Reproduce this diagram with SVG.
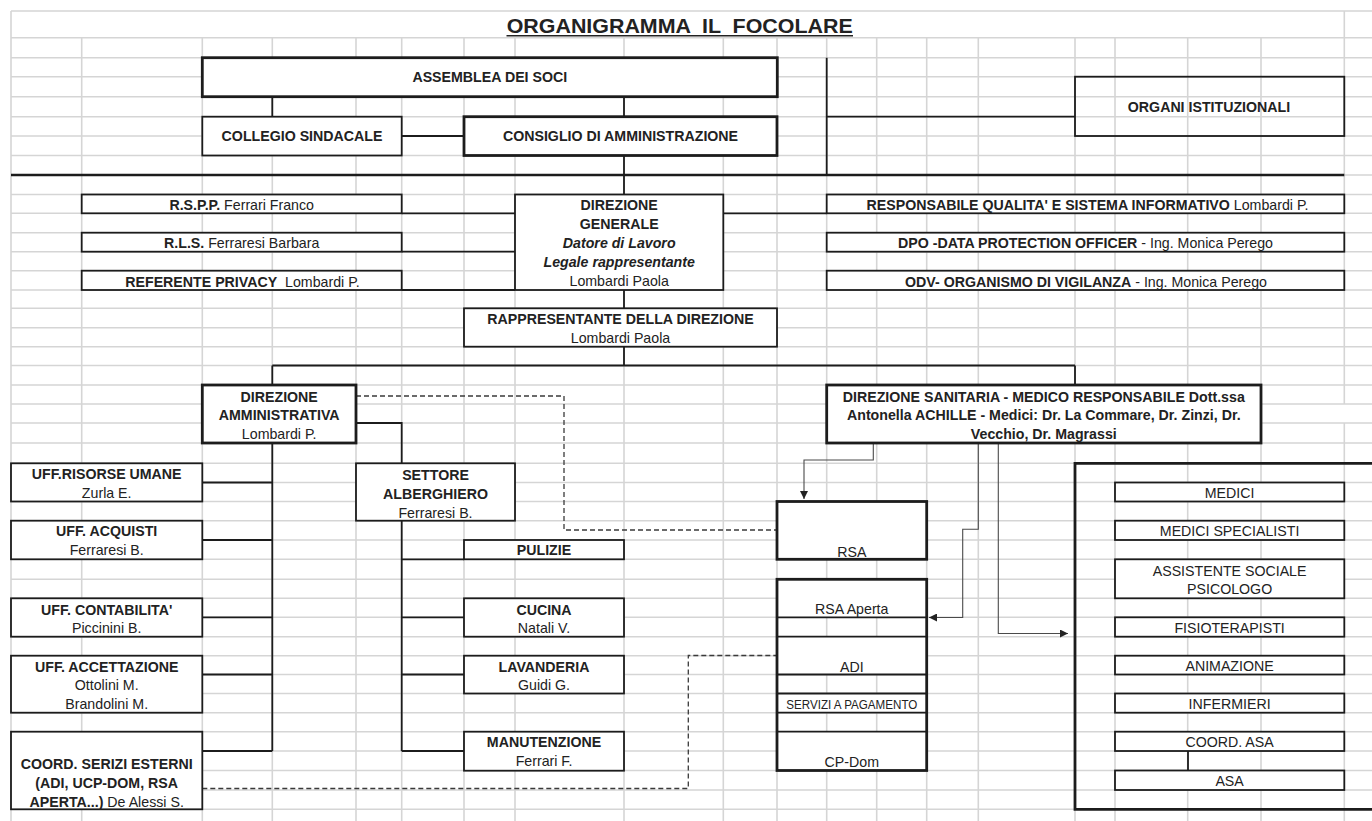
<svg xmlns="http://www.w3.org/2000/svg" width="1372" height="821" viewBox="0 0 1372 821">
<defs>
<style>
.grid{stroke:#d5d5d5;stroke-width:1.6;fill:none}
.bx{fill:#fff;stroke:#1c1c1c;stroke-width:1.8}
.bt{fill:#fff;stroke:#1c1c1c;stroke-width:2.8}
.open{fill:none;stroke:#1c1c1c;stroke-width:1.8}
.openT{fill:none;stroke:#1c1c1c;stroke-width:2.8}
.wh{fill:#fff;stroke:none}
.ln{fill:none;stroke:#1c1c1c;stroke-width:1.8}
.lnT{fill:none;stroke:#1c1c1c;stroke-width:2.6}
.thin{fill:none;stroke:#4a4a4a;stroke-width:1.1}
.dash{fill:none;stroke:#3a3a3a;stroke-width:1.3;stroke-dasharray:5 3}
text{font-family:"Liberation Sans",Arial,Helvetica,sans-serif;font-size:14.2px;fill:#222;text-anchor:middle}
.b{font-weight:bold}
.bi{font-weight:bold;font-style:italic}
.sm{font-size:12.5px}
</style>
<marker id="ah" viewBox="0 0 10 10" refX="10" refY="5" markerWidth="8" markerHeight="8" markerUnits="userSpaceOnUse" orient="auto"><path d="M0,0 L10,5 L0,10 Z" fill="#222"/></marker>
</defs>
<rect x="0" y="0" width="1372" height="821" fill="#fff"/>
<g id="grid">
<path class="grid" d="M11 11H1372M11 37.7H1372M11 57.7H1372M11 76.7H1372M11 96.7H1372M11 116.7H1372M11 136H1372M11 155.5H1372M11 175H1372M11 194.5H1372M11 213.3H1372M11 232.7H1372M11 251.7H1372M11 270.7H1372M11 290H1372M11 308.3H1372M11 327.7H1372M11 346.7H1372M11 365.5H1372M11 385H1372M11 404H1372M11 423H1372M11 443H1372M11 463.3H1372M11 482.5H1372M11 501.5H1372M11 520.7H1372M11 540H1372M11 559.3H1372M11 579.3H1372M11 598.3H1372M11 617.3H1372M11 636.7H1372M11 655.7H1372M11 674.5H1372M11 693.5H1372M11 712.7H1372M11 731.7H1372M11 751H1372M11 770.5H1372M11 790H1372M11 809.3H1372"/>
<path class="grid" d="M11 11V821M81.7 37.7V821M202.3 37.7V821M272.3 37.7V821M356 37.7V821M401.7 37.7V821M464 37.7V821M515 37.7V821M624 37.7V821M723.3 37.7V821M777 37.7V821M826.7 37.7V821M876.7 37.7V821M926.7 37.7V821M978.3 37.7V821M1075 37.7V821M1115 37.7V821M1187.7 37.7V821M1261 37.7V821M1344.3 11V404M1344.3 423V821"/>
</g>
<g id="title">
<text x="679.7" y="32.7" class="b" style="font-size:20px" textLength="346" lengthAdjust="spacingAndGlyphs" xml:space="preserve">ORGANIGRAMMA  IL  FOCOLARE</text>
<line x1="506.5" y1="35.8" x2="853" y2="35.8" stroke="#222" stroke-width="1.6"/>
</g>
<g id="connectors">
<path class="ln" d="M272.3 96.7V116.7M624 96.7V116.7M401.7 136H464M624 155.5V194.5M826.7 57.7V175M826.7 116.7H1075"/>
<path class="lnT" d="M11 175H1344.3"/>
<path class="ln" d="M401.7 213.3H515M401.7 251.7H515M401.7 290H515M723.3 213.3H826.7"/>
<path class="ln" d="M624 290V308.3M624 346.7V365.5M272.3 365.5H1075M272.3 365.5V385M1075 365.5V385"/>
<path class="ln" d="M356 423H401.7V463.3"/>
<path class="ln" d="M272.3 443V751M202.3 482.5H272.3M202.3 540H272.3M202.3 617.3H272.3M202.3 674.5H272.3M202.3 751H272.3"/>
<path class="ln" d="M401.7 520.7V751M401.7 559.3H464M401.7 617.3H464M401.7 674.5H464M401.7 751H464"/>
<path class="dash" d="M356 396H564V530H777"/>
<path class="dash" d="M202.3 788.5H688.3V655.5H777"/>
<path class="thin" marker-end="url(#ah)" d="M873.3 443V460H804V499"/>
<path class="thin" marker-end="url(#ah)" d="M978.3 443V529.3H962.7V617.5H929"/>
<path class="thin" marker-end="url(#ah)" d="M998.3 443V633.5H1068"/>
<path class="ln" d="M1188 751V770.5"/>
</g>
<g id="assemblea">
<rect class="bt" x="202.3" y="57.7" width="575" height="39"/>
<text class="b" x="489.8" y="81.7">ASSEMBLEA DEI SOCI</text>
</g>
<g id="collegio">
<rect class="bx" x="202.3" y="116.7" width="199.4" height="38.8"/>
<text class="b" x="302" y="141">COLLEGIO SINDACALE</text>
</g>
<g id="consiglio">
<rect class="bt" x="464" y="116.7" width="313" height="38.8"/>
<text class="b" x="620.5" y="141">CONSIGLIO DI AMMINISTRAZIONE</text>
</g>
<g id="organi">
<rect class="open" x="1075" y="76.7" width="269.3" height="59.3"/>
<text class="b" x="1209" y="112.3">ORGANI ISTITUZIONALI</text>
</g>
<g id="rspp">
<rect class="bx" x="81.7" y="194.5" width="320" height="18.8"/>
<text x="241.7" y="209.5"><tspan class="b">R.S.P.P.</tspan> Ferrari Franco</text>
</g>
<g id="rls">
<rect class="bx" x="81.7" y="232.7" width="320" height="19"/>
<text x="241.7" y="248.3"><tspan class="b">R.L.S.</tspan> Ferraresi Barbara</text>
</g>
<g id="privacy">
<rect class="bx" x="81.7" y="270.7" width="320" height="19.3"/>
<text x="242.5" y="286.7" xml:space="preserve"><tspan class="b">REFERENTE PRIVACY</tspan>  Lombardi P.</text>
</g>
<g id="direzione-generale">
<rect class="bx" x="515" y="194.5" width="208.3" height="95.5"/>
<text class="b" x="619.2" y="210">DIREZIONE</text>
<text class="b" x="619.2" y="229.3">GENERALE</text>
<text class="bi" x="619.2" y="248.3">Datore di Lavoro</text>
<text class="bi" x="619.2" y="267.3">Legale rappresentante</text>
<text x="619.2" y="286">Lombardi Paola</text>
</g>
<g id="qualita">
<rect class="bx" x="826.7" y="194.5" width="517.6" height="18.8"/>
<text x="1087.5" y="209.5"><tspan class="b">RESPONSABILE QUALITA' E SISTEMA INFORMATIVO</tspan> Lombardi P.</text>
</g>
<g id="dpo">
<rect class="bx" x="826.7" y="232.7" width="517.6" height="19"/>
<text x="1085.5" y="248.3"><tspan class="b">DPO -DATA PROTECTION OFFICER</tspan> - Ing. Monica Perego</text>
</g>
<g id="odv">
<rect class="bx" x="826.7" y="270.7" width="517.6" height="19.3"/>
<text x="1086" y="286.7"><tspan class="b">ODV- ORGANISMO DI VIGILANZA</tspan> - Ing. Monica Perego</text>
</g>
<g id="rappresentante">
<rect class="bx" x="464" y="308.3" width="313" height="38.4"/>
<text class="b" x="620.5" y="324">RAPPRESENTANTE DELLA DIREZIONE</text>
<text x="620.5" y="342.7">Lombardi Paola</text>
</g>
<g id="direzione-amministrativa">
<rect class="bt" x="202.3" y="385" width="153.7" height="58"/>
<text class="b" x="279.2" y="401.5">DIREZIONE</text>
<text class="b" x="279.2" y="420">AMMINISTRATIVA</text>
<text x="279.2" y="438.5">Lombardi P.</text>
</g>
<g id="direzione-sanitaria">
<rect class="bt" x="826.7" y="385" width="434.3" height="58"/>
<text class="b" x="1043.8" y="401.5">DIREZIONE SANITARIA - MEDICO RESPONSABILE Dott.ssa</text>
<text class="b" x="1043.8" y="420">Antonella ACHILLE - Medici: Dr. La Commare, Dr. Zinzi, Dr.</text>
<text class="b" x="1043.8" y="438.5">Vecchio, Dr. Magrassi</text>
</g>
<g id="uff-risorse">
<rect class="bx" x="11" y="463.3" width="191.3" height="38.2"/>
<text class="b" x="106.7" y="479">UFF.RISORSE UMANE</text>
<text x="106.7" y="498.3">Zurla E.</text>
</g>
<g id="uff-acquisti">
<rect class="bx" x="11" y="520.7" width="191.3" height="38.6"/>
<text class="b" x="106.7" y="536">UFF. ACQUISTI</text>
<text x="106.7" y="555">Ferraresi B.</text>
</g>
<g id="uff-contabilita">
<rect class="bx" x="11" y="598.3" width="191.3" height="38.4"/>
<text class="b" x="106.7" y="615">UFF. CONTABILITA'</text>
<text x="106.7" y="633.3">Piccinini B.</text>
</g>
<g id="uff-accettazione">
<rect class="bx" x="11" y="655.7" width="191.3" height="57"/>
<text class="b" x="106.7" y="671.7">UFF. ACCETTAZIONE</text>
<text x="106.7" y="690">Ottolini M.</text>
<text x="106.7" y="709.3">Brandolini M.</text>
</g>
<g id="coord-servizi">
<rect class="bx" x="11" y="731.7" width="191.3" height="77.6"/>
<text class="b" x="106.7" y="769.3">COORD. SERIZI ESTERNI</text>
<text class="b" x="106.7" y="788">(ADI, UCP-DOM, RSA</text>
<text x="106.7" y="806.7"><tspan class="b">APERTA...)</tspan> De Alessi S.</text>
</g>
<g id="settore-alberghiero">
<rect class="bx" x="356" y="463.3" width="159" height="57.4"/>
<text class="b" x="435.5" y="479.5">SETTORE</text>
<text class="b" x="435.5" y="498.5">ALBERGHIERO</text>
<text x="435.5" y="517.5">Ferraresi B.</text>
</g>
<g id="pulizie">
<rect class="bx" x="464" y="540" width="160" height="19.3"/>
<text class="b" x="544" y="555">PULIZIE</text>
</g>
<g id="cucina">
<rect class="bx" x="464" y="598.3" width="160" height="38.4"/>
<text class="b" x="544" y="614.5">CUCINA</text>
<text x="544" y="633.3">Natali V.</text>
</g>
<g id="lavanderia">
<rect class="bx" x="464" y="655.7" width="160" height="37.8"/>
<text class="b" x="544" y="671.7">LAVANDERIA</text>
<text x="544" y="690">Guidi G.</text>
</g>
<g id="manutenzione">
<rect class="bx" x="464" y="731.7" width="160" height="39"/>
<text class="b" x="544" y="747.3">MANUTENZIONE</text>
<text x="544" y="766">Ferrari F.</text>
</g>
<g id="rsa">
<rect class="bt" x="777" y="501.5" width="149.7" height="57.8"/>
<text x="851.8" y="556.5">RSA</text>
</g>
<g id="servizi-stack">
<rect class="wh" x="777" y="579.3" width="149.7" height="38"/>
<rect class="wh" x="777" y="636.7" width="149.7" height="37.8"/>
<rect class="wh" x="777" y="693.5" width="149.7" height="19.2"/>
<rect class="wh" x="777" y="731.7" width="149.7" height="38.8"/>
<path class="ln" d="M777 617.3H926.7M777 636.7H926.7M777 674.5H926.7M777 693.5H926.7M777 712.7H926.7M777 731.7H926.7"/>
<rect class="openT" x="777" y="579.3" width="149.7" height="191.2"/>
<g id="rsa-aperta"><text x="851.8" y="614">RSA Aperta</text></g>
<g id="adi"><text x="851.8" y="671.7">ADI</text></g>
<g id="servizi-pagamento"><text class="sm" x="851.8" y="709" textLength="131" lengthAdjust="spacingAndGlyphs">SERVIZI A PAGAMENTO</text></g>
<g id="cp-dom"><text x="851.8" y="766.7">CP-Dom</text></g>
</g>
<g id="area-sanitaria">
<path class="openT" d="M1372 463.3H1075V809.3H1372"/>
</g>
<g id="medici">
<rect class="bx" x="1115" y="482.5" width="229.3" height="19"/>
<text x="1229.6" y="497.7">MEDICI</text>
</g>
<g id="medici-specialisti">
<rect class="bx" x="1115" y="520.7" width="229.3" height="19.3"/>
<text x="1229.6" y="536">MEDICI SPECIALISTI</text>
</g>
<g id="assistente-sociale">
<rect class="bx" x="1115" y="559.3" width="229.3" height="39"/>
<text x="1229.6" y="575.7">ASSISTENTE SOCIALE</text>
<text x="1229.6" y="594">PSICOLOGO</text>
</g>
<g id="fisioterapisti">
<rect class="bx" x="1115" y="617.3" width="229.3" height="19.4"/>
<text x="1229.6" y="632.7">FISIOTERAPISTI</text>
</g>
<g id="animazione">
<rect class="bx" x="1115" y="655.7" width="229.3" height="18.8"/>
<text x="1229.6" y="670.7">ANIMAZIONE</text>
</g>
<g id="infermieri">
<rect class="bx" x="1115" y="693.5" width="229.3" height="19.2"/>
<text x="1229.6" y="709">INFERMIERI</text>
</g>
<g id="coord-asa">
<rect class="bx" x="1115" y="731.7" width="229.3" height="19.3"/>
<text x="1229.6" y="747.3">COORD. ASA</text>
</g>
<g id="asa">
<rect class="bx" x="1115" y="770.5" width="229.3" height="19.5"/>
<text x="1229.6" y="785.7">ASA</text>
</g>
</svg>
